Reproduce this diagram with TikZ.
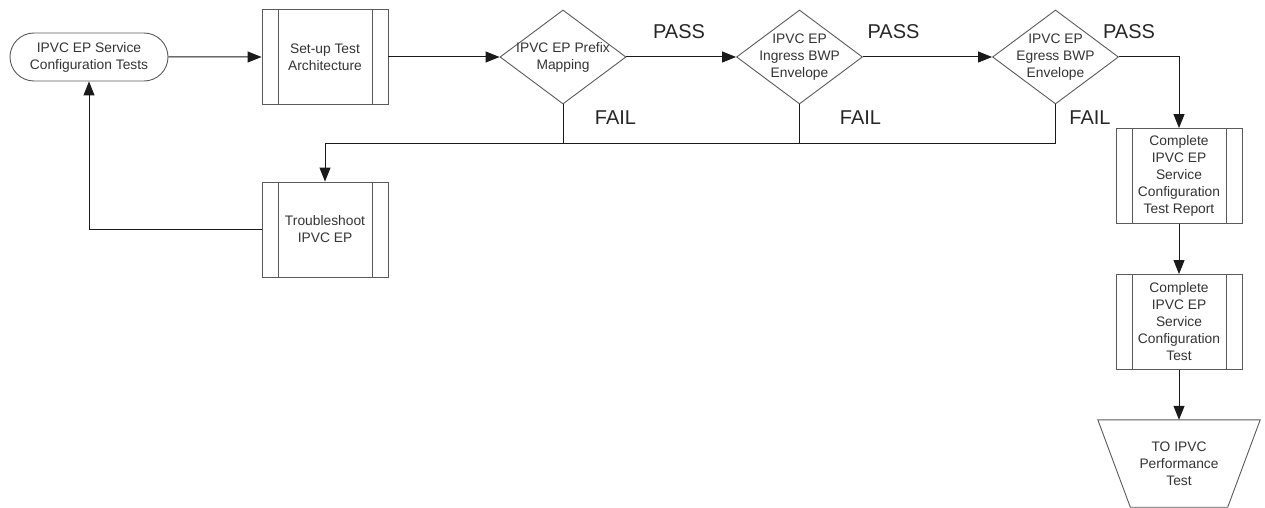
\documentclass[tikz,border=0pt]{standalone}
\usepackage{fontspec}
\setmainfont{Liberation Sans}
\usetikzlibrary{shapes.geometric,shapes.misc,arrows.meta}
\definecolor{edgegray}{HTML}{5A5A5A}
\definecolor{inkgray}{HTML}{333333}
\definecolor{wire}{HTML}{1A1A1A}
\begin{document}
\begin{tikzpicture}[x=1pt,y=-1pt,
  every node/.style={font=\fontsize{13.8}{17}\selectfont, text=inkgray, align=center},
  shapeline/.style={draw=edgegray, line width=0.9pt},
  terminal/.style={shapeline, rounded rectangle, minimum width=158pt, minimum height=48pt, inner sep=0pt},
  subproc/.style={shapeline, rectangle, minimum width=126pt, minimum height=95pt, inner sep=0pt,
    path picture={\draw[edgegray, line width=0.9pt]
      ([xshift=16pt]path picture bounding box.north west) -- ([xshift=16pt]path picture bounding box.south west)
      ([xshift=-16pt]path picture bounding box.north east) -- ([xshift=-16pt]path picture bounding box.south east);}},
  decision/.style={shapeline, diamond, minimum width=126pt, minimum height=94pt, inner sep=0pt},
  offpage/.style={rectangle, minimum width=162pt, minimum height=87pt, inner sep=0pt},
  flag/.style={font=\fontsize{20}{24}\selectfont, text=black!85},
  line/.style={draw=wire, line width=1pt},
  conn/.style={line, -{Triangle[length=14pt,width=11pt]}}
]
\useasboundingbox (0,0) rectangle (1265,508);

% main flow
\node[terminal] (start) at (89,57) {IPVC EP Service\\Configuration Tests};
\node[subproc] (setup) at (325,57) {Set-up Test\\Architecture};
\node[decision, label={center:{IPVC EP Prefix\\Mapping}}] (prefix) at (563,57) {};
\node[decision, label={center:{IPVC EP\\Ingress BWP\\Envelope}}] (ingress) at (799.5,57) {};
\node[decision, label={center:{IPVC EP\\Egress BWP\\Envelope}}] (egress) at (1055.5,57) {};
\node[subproc] (trouble) at (325,229.5) {Troubleshoot\\IPVC EP};
\node[subproc] (report) at (1179,176) {Complete\\IPVC EP\\Service\\Configuration\\Test Report};
\node[subproc] (complete) at (1179,322) {Complete\\IPVC EP\\Service\\Configuration\\Test};
\node[offpage] (perf) at (1179,463.5) {TO IPVC\\Performance\\Test};
% off-page connector outline: wide top, narrow bottom
\draw[shapeline] (perf.north west) -- (perf.north east)
  -- ([xshift=-32.5pt]perf.south east) -- ([xshift=32.5pt]perf.south west) -- cycle;

% outcome labels
\node[flag] (pass1) at (679,32) {PASS};
\node[flag] (pass2) at (893.5,32) {PASS};
\node[flag] (pass3) at (1129,32) {PASS};
\node[flag] (fail1) at (615.5,117.5) {FAIL};
\node[flag] (fail2) at (860.5,117.5) {FAIL};
\node[flag] (fail3) at (1090,118) {FAIL};

% shared failure return line
\coordinate (failbus) at (0,143);

% connectors
\draw[conn] (start) -- (setup);
\draw[conn] (setup) -- (prefix);
\draw[conn] (prefix) -- (ingress);
\draw[conn] (ingress) -- (egress);
\draw[conn] (egress.east) -| (report.north);
\draw[line] (prefix.south) -- (prefix.south |- failbus);
\draw[line] (ingress.south) -- (ingress.south |- failbus);
\draw[conn] (egress.south) |- (trouble.north |- failbus) -- (trouble.north);
\draw[conn] (trouble.west) -| (start.south);
\draw[conn] (report) -- (complete);
\draw[conn] (complete) -- (perf);
\end{tikzpicture}
\end{document}
